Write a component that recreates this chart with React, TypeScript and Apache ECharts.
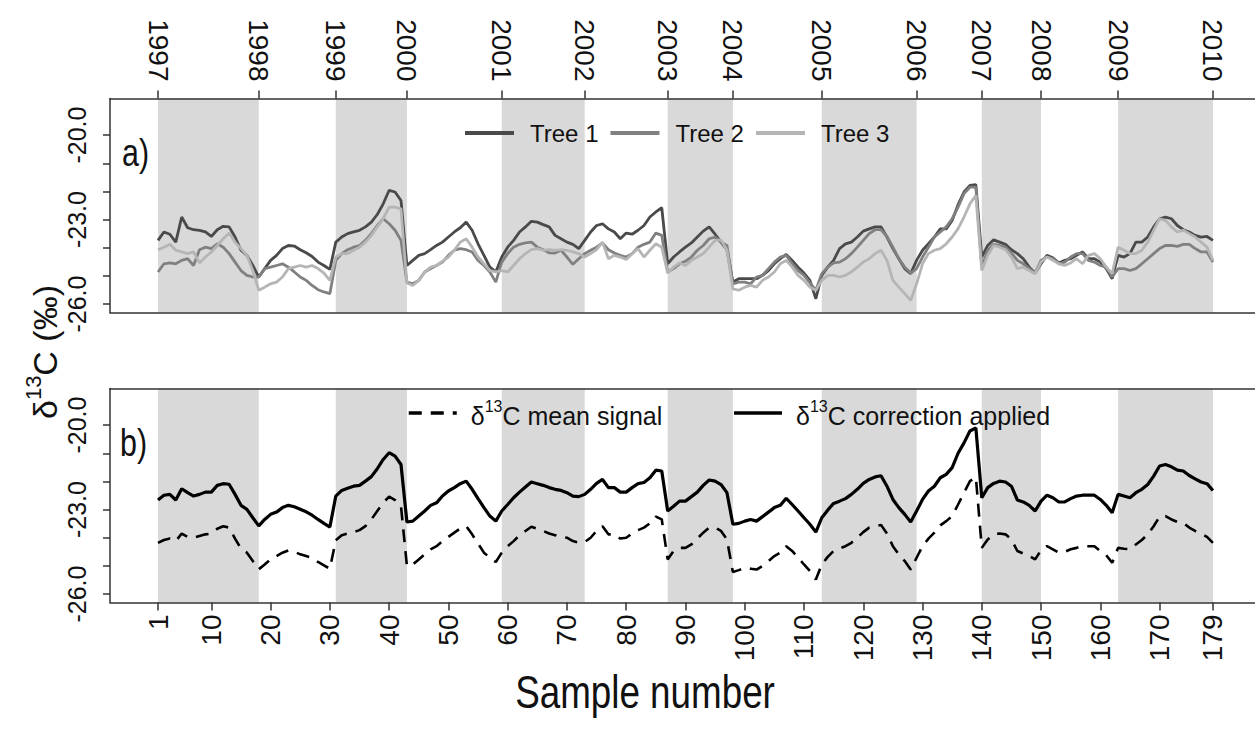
import React, { useEffect, useRef } from "react";
import * as echarts from "echarts";

// ---------------- data ----------------
const samples: number[] = Array.from({ length: 179 }, (_, i) => i + 1);

const sampleTicks = [1, 10, 20, 30, 40, 50, 60, 70, 80, 90, 100, 110, 120, 130, 140, 150, 160, 170, 179];
const yearTicks = [1, 18, 31, 43, 59, 73, 87, 98, 113, 129, 140, 150, 163, 179];
const years = [1997, 1998, 1999, 2000, 2001, 2002, 2003, 2004, 2005, 2006, 2007, 2008, 2009, 2010];
const yTicks = [-26, -25, -24, -23, -22, -21, -20];
const yLabels = [-26, -23, -20];

const tree1 = [
  -23.74, -23.44, -23.52, -23.8, -22.91, -23.29, -23.36, -23.38, -23.44, -23.6,
  -23.36, -23.24, -23.26, -23.62, -24.09, -24.27, -24.63, -25.04, -24.74, -24.45,
  -24.27, -24.03, -23.92, -23.94, -24.07, -24.18, -24.31, -24.51, -24.63, -24.77,
  -23.8, -23.62, -23.5, -23.44, -23.38, -23.26, -23.09, -22.82, -22.44, -21.96,
  -22.02, -22.32, -24.63, -24.45, -24.27, -24.21, -24.07, -23.92, -23.8, -23.62,
  -23.44, -23.29, -23.09, -23.38, -23.86, -24.27, -24.69, -24.86, -24.33, -23.98,
  -23.74, -23.44, -23.26, -23.06, -23.09, -23.18, -23.26, -23.56, -23.68, -23.8,
  -23.88, -24.03, -23.74, -23.44, -23.21, -23.15, -23.33, -23.44, -23.68, -23.48,
  -23.52, -23.38, -23.21, -22.91, -22.73, -22.58, -24.57, -24.33, -24.15, -23.98,
  -23.83, -23.62, -23.41, -23.26, -23.52, -23.8, -24.07, -25.22, -25.1, -25.1,
  -25.1, -25.1, -24.98, -24.81, -24.57, -24.39, -24.24, -24.45, -24.69, -24.9,
  -25.16, -25.81, -24.98, -24.69, -24.45, -24.03, -23.86, -23.8, -23.62, -23.41,
  -23.33, -23.26, -23.26, -23.62, -24.03, -24.39, -24.74, -24.92, -24.45, -24.09,
  -23.86, -23.62, -23.33, -23.33, -23.03, -22.47, -22.02, -21.79, -21.76, -24.33,
  -23.92, -23.72, -23.8, -23.88, -24.07, -24.21, -24.39, -24.69, -24.9, -24.57,
  -24.27, -24.36, -24.54, -24.45, -24.39, -24.27, -24.15, -24.39, -24.39, -24.51,
  -24.74, -25.1, -24.27, -24.33, -24.21, -23.8, -23.8, -23.62, -23.26, -22.97,
  -22.91, -22.97, -23.21, -23.36, -23.44, -23.56, -23.62, -23.6, -23.74,
];

const tree2 = [
  -24.86, -24.57, -24.54, -24.57, -24.45, -24.39, -24.63, -24.07, -23.98, -24.03,
  -23.86, -23.98, -24.21, -24.51, -24.81, -24.98, -25.04, -25.04, -24.74, -24.69,
  -24.63, -24.57, -24.69, -24.86, -25.04, -25.16, -25.34, -25.49, -25.57, -25.63,
  -24.45, -24.21, -24.07, -23.98, -23.92, -23.74, -23.5, -23.21, -22.97, -23.15,
  -23.38, -23.74, -25.22, -25.28, -25.16, -24.86, -24.74, -24.63, -24.51, -24.27,
  -24.09, -24.03, -24.07, -24.15, -24.45, -24.63, -24.86, -25.22, -24.51, -24.21,
  -23.98, -23.88, -23.83, -23.8, -23.98, -24.07, -24.18, -24.19, -24.09, -24.33,
  -24.59, -24.39, -24.21, -24.09, -23.98, -23.83, -24.07, -24.19, -24.27, -24.33,
  -24.21, -23.98, -23.88, -23.8, -23.48, -23.56, -24.86, -24.74, -24.57, -24.48,
  -24.33, -24.09, -23.92, -23.68, -23.62, -23.8, -23.92, -25.28, -25.22, -25.22,
  -25.28, -25.04, -24.98, -24.74, -24.51, -24.33, -24.27, -24.57, -24.81, -24.98,
  -25.25, -25.51, -24.92, -24.69, -24.54, -24.51, -24.39, -24.21, -23.98, -23.74,
  -23.5, -23.36, -23.36, -23.6, -23.98, -24.39, -24.69, -24.9, -24.74, -24.33,
  -23.98, -23.62, -23.44, -23.26, -22.97, -22.56, -22.08, -21.85, -21.85, -24.69,
  -24.09, -23.88, -23.92, -23.98, -24.19, -24.45, -24.57, -24.74, -24.9, -24.45,
  -24.33, -24.39, -24.57, -24.51, -24.33, -24.21, -24.21, -24.45, -24.51, -24.63,
  -24.69, -25.04, -24.74, -24.74, -24.81, -24.74, -24.57, -24.39, -24.21, -24.03,
  -23.92, -23.92, -23.95, -23.88, -23.88, -24.03, -24.15, -24.15, -24.51,
];

const tree3 = [
  -24.07, -23.98, -23.88, -24.09, -24.15, -24.21, -24.15, -24.54, -24.33, -24.15,
  -23.92, -23.68, -23.48, -23.8, -24.03, -24.27, -24.81, -25.51, -25.4, -25.28,
  -25.22, -25.04, -24.74, -24.69, -24.63, -24.69, -24.63, -24.74, -24.9, -25.16,
  -24.33, -24.21, -24.21, -24.09, -23.98, -23.8, -23.56, -23.26, -22.97, -22.56,
  -22.56, -22.62, -25.25, -25.34, -25.16, -24.86, -24.69, -24.63, -24.48, -24.33,
  -24.09, -23.8, -23.68, -23.98, -24.33, -24.57, -24.81, -24.86, -24.81, -24.86,
  -24.63, -24.39, -24.21, -24.07, -24.03, -24.09, -24.07, -24.09, -24.07, -24.09,
  -24.15, -24.21, -24.33, -24.21, -24.07, -23.8, -24.39, -24.27, -24.33, -24.42,
  -24.21, -24.03, -24.33, -24.09, -23.86, -23.98, -24.9, -24.69, -24.54, -24.63,
  -24.45, -24.33, -24.21, -23.98, -23.74, -23.72, -24.09, -25.46, -25.51, -25.4,
  -25.34, -25.4, -25.16, -25.04, -24.86, -24.57, -24.45, -24.69, -24.98, -25.16,
  -25.4, -25.51, -25.16, -24.98, -24.98, -25.04, -24.98, -24.86, -24.69, -24.51,
  -24.39, -24.21, -24.09, -24.45, -25.16, -25.4, -25.63, -25.87, -25.28, -24.57,
  -24.21, -24.09, -24.03, -23.86, -23.62, -23.32, -22.91, -22.44, -22.14, -24.81,
  -24.27, -23.92, -23.98, -24.07, -24.33, -24.74, -24.69, -24.81, -24.92, -24.51,
  -24.33, -24.45, -24.57, -24.63, -24.54, -24.39, -24.57, -24.27, -24.21, -24.39,
  -24.69, -24.92, -23.98, -24.09, -24.21, -24.21, -24.09, -23.8, -23.38, -22.97,
  -23.03, -23.26, -23.44, -23.38, -23.5, -23.62, -23.8, -23.98, -24.45,
];

const meanSignal = [
  -24.18, -24.08, -24.03, -24.12, -23.85, -23.97, -24.0, -23.94, -23.88, -23.85,
  -23.68, -23.59, -23.64, -24.03, -24.39, -24.53, -24.83, -25.12, -24.95, -24.77,
  -24.65, -24.53, -24.45, -24.5, -24.59, -24.65, -24.71, -24.86, -24.98, -25.1,
  -24.09, -23.91, -23.85, -23.8, -23.73, -23.59, -23.35, -23.05, -22.76, -22.54,
  -22.66, -22.88, -25.0, -24.95, -24.77, -24.59, -24.41, -24.3, -24.12, -23.97,
  -23.82, -23.67, -23.59, -23.88, -24.21, -24.53, -24.71, -24.86, -24.53, -24.3,
  -24.12, -23.91, -23.76, -23.61, -23.68, -23.76, -23.85, -23.91, -23.97, -24.0,
  -24.12, -24.18, -24.15, -24.0, -23.76, -23.59, -23.88, -23.88, -24.03, -24.0,
  -23.85, -23.73, -23.64, -23.49, -23.25, -23.35, -24.77, -24.47, -24.36, -24.36,
  -24.24, -24.03, -23.82, -23.64, -23.64, -23.76, -24.06, -25.22, -25.15, -25.07,
  -25.1, -25.13, -25.0, -24.83, -24.65, -24.53, -24.3, -24.47, -24.71, -24.95,
  -25.18, -25.48, -24.95, -24.68, -24.47, -24.38, -24.3, -24.18, -24.0, -23.8,
  -23.64, -23.59, -23.55, -23.85, -24.3, -24.59, -24.83, -25.13, -24.71, -24.3,
  -24.03, -23.82, -23.56, -23.41, -23.23, -22.82, -22.4, -21.99, -21.85, -24.36,
  -24.06, -23.88, -23.85, -23.88, -24.06, -24.47, -24.56, -24.65, -24.77, -24.44,
  -24.3, -24.41, -24.53, -24.5, -24.41, -24.36, -24.3, -24.3, -24.3, -24.47,
  -24.62, -24.89, -24.36, -24.39, -24.41, -24.24, -24.08, -23.88, -23.59, -23.25,
  -23.23, -23.35, -23.44, -23.47, -23.64, -23.76, -23.85, -23.97, -24.18,
];

const correction = [
  -22.66, -22.49, -22.46, -22.66, -22.26, -22.4, -22.52, -22.46, -22.38, -22.38,
  -22.14, -22.08, -22.1, -22.46, -22.85, -22.99, -23.29, -23.58, -23.35, -23.17,
  -23.09, -22.93, -22.85, -22.9, -22.99, -23.08, -23.2, -23.35, -23.49, -23.62,
  -22.52, -22.32, -22.24, -22.17, -22.14, -21.99, -21.83, -21.55, -21.22, -20.98,
  -21.1, -21.4, -23.44, -23.41, -23.23, -23.05, -22.85, -22.76, -22.52, -22.34,
  -22.22, -22.08, -21.99, -22.28, -22.61, -22.93, -23.23, -23.41, -23.05, -22.82,
  -22.58, -22.38, -22.2, -22.02, -22.08, -22.14, -22.22, -22.28, -22.32, -22.4,
  -22.52, -22.54, -22.46, -22.28, -22.07, -21.93, -22.22, -22.22, -22.38, -22.38,
  -22.22, -22.08, -22.04, -21.87, -21.6, -21.63, -23.05, -22.88, -22.7, -22.7,
  -22.54, -22.38, -22.14, -21.95, -21.99, -22.11, -22.4, -23.52, -23.49, -23.41,
  -23.35, -23.41, -23.25, -23.09, -22.93, -22.85, -22.6, -22.82, -23.05, -23.29,
  -23.52, -23.8, -23.29, -23.02, -22.78, -22.7, -22.61, -22.46, -22.28, -22.07,
  -21.93, -21.84, -21.8, -22.17, -22.64, -22.93, -23.17, -23.44, -23.05, -22.64,
  -22.34, -22.17, -21.87, -21.75, -21.51, -21.0, -20.63, -20.21, -20.1, -22.58,
  -22.22, -22.07, -21.99, -22.02, -22.17, -22.66, -22.73, -22.85, -23.05, -22.7,
  -22.49, -22.58, -22.73, -22.73, -22.61, -22.52, -22.49, -22.49, -22.49, -22.64,
  -22.85, -23.11, -22.46, -22.52, -22.58, -22.4, -22.28, -22.11, -21.81, -21.45,
  -21.4, -21.48, -21.6, -21.63, -21.79, -21.91, -22.02, -22.08, -22.32,
];

// ---------------- helpers ----------------
const pairs = (vals: number[]) => samples.map((s, i) => [s, vals[i]]);

// shaded = every other year interval, starting with the first
const bands: any[] = [];
for (let i = 0; i + 1 < yearTicks.length; i += 2) {
  bands.push([{ xAxis: yearTicks[i] }, { xAxis: yearTicks[i + 1] }]);
}

const XMIN = -7.1;
const XMAX = 186.1;
const YMIN = -26.3;
const YMAX = -18.7;

const SANS = "'Liberation Sans', Arial, Helvetica, sans-serif";
const AX = "#333";

const boxLine = { show: true, onZero: false, lineStyle: { color: AX, width: 1.5 } };
const hiddenSymbol = { color: "transparent", borderColor: "transparent", borderWidth: 0, opacity: 0 };

function buildOption(): any {
  const markArea = {
    silent: true,
    itemStyle: { color: "#d9d9d9" },
    data: bands,
  };
  const tickLabel = { fontFamily: SANS, fontSize: 28, color: "#111" };

  return {
    animation: false,
    backgroundColor: "#ffffff",
    grid: [
      { left: 110, top: 98.5, right: 0, height: 214, show: false },
      { left: 110, top: 388.5, right: 0, height: 214, show: false },
    ],
    xAxis: [
      {
        gridIndex: 0, type: "value", position: "bottom", min: XMIN, max: XMAX, z: 5,
        axisLine: boxLine, axisTick: { show: false }, axisLabel: { show: false }, splitLine: { show: false },
      },
      {
        gridIndex: 0, type: "value", position: "top", min: XMIN, max: XMAX, z: 5,
        axisLine: boxLine,
        axisTick: { show: true, customValues: yearTicks, length: 8, lineStyle: { color: AX, width: 1.5 } },
        axisLabel: {
          ...tickLabel, customValues: yearTicks, rotate: 90, margin: 17,
          formatter: (v: number) => String(years[yearTicks.indexOf(v)]),
        },
        splitLine: { show: false },
      },
      {
        gridIndex: 1, type: "value", position: "bottom", min: XMIN, max: XMAX, z: 5,
        axisLine: boxLine,
        axisTick: { show: true, customValues: sampleTicks, length: 8, lineStyle: { color: AX, width: 1.5 } },
        axisLabel: { ...tickLabel, customValues: sampleTicks, rotate: 90, margin: 12, formatter: (v: number) => String(v) },
        splitLine: { show: false },
      },
      {
        gridIndex: 1, type: "value", position: "top", min: XMIN, max: XMAX, z: 5,
        axisLine: boxLine, axisTick: { show: false }, axisLabel: { show: false }, splitLine: { show: false },
      },
    ],
    yAxis: [0, 1].map((g) => ({
      gridIndex: g, type: "value", min: YMIN, max: YMAX, position: "left", z: 5,
      axisLine: boxLine,
      axisTick: { show: true, customValues: yTicks, length: 7, lineStyle: { color: AX, width: 1.5 } },
      axisLabel: {
        ...tickLabel, fontSize: 25, customValues: yLabels, rotate: 90, margin: 21,
        formatter: (v: number) => v.toFixed(1),
      },
      splitLine: { show: false },
    })),
    legend: [
      {
        data: ["Tree 1", "Tree 2", "Tree 3"],
        left: 458, top: 116, orient: "horizontal",
        itemWidth: 49, itemHeight: 14, itemGap: 10,
        itemStyle: hiddenSymbol,
        lineStyle: { width: 4 },
        textStyle: { fontFamily: SANS, fontSize: 24, color: "#111", padding: [0, 0, 0, 11] },
      },
      {
        data: ["δ13C mean signal", "δ13C correction applied"],
        left: 402, top: 393, orient: "horizontal",
        itemWidth: 48, itemHeight: 14, itemGap: 70,
        itemStyle: hiddenSymbol,
        lineStyle: { width: 3.5 },
        formatter: (name: string) => "{n|δ}{s|13}{n|" + name.slice(3) + "}",
        textStyle: {
          fontFamily: SANS, fontSize: 25, color: "#111", padding: [0, 0, 0, 9],
          rich: {
            n: { fontFamily: SANS, fontSize: 25, color: "#111", lineHeight: 30, verticalAlign: "bottom" },
            s: { fontFamily: SANS, fontSize: 16, color: "#111", lineHeight: 16, verticalAlign: "top" },
          },
        },
      },
    ],
    series: [
      {
        name: "Tree 1", type: "line", xAxisIndex: 0, yAxisIndex: 0, data: pairs(tree1),
        symbol: "none", lineStyle: { color: "#4a4a4a", width: 2.8 }, itemStyle: { color: "#4a4a4a" },
        markArea, z: 3,
      },
      {
        name: "Tree 2", type: "line", xAxisIndex: 0, yAxisIndex: 0, data: pairs(tree2),
        symbol: "none", lineStyle: { color: "#808080", width: 2.8 }, itemStyle: { color: "#808080" }, z: 3,
      },
      {
        name: "Tree 3", type: "line", xAxisIndex: 0, yAxisIndex: 0, data: pairs(tree3),
        symbol: "none", lineStyle: { color: "#b5b5b5", width: 2.8 }, itemStyle: { color: "#b5b5b5" }, z: 3,
      },
      {
        name: "δ13C mean signal", type: "line", xAxisIndex: 2, yAxisIndex: 1, data: pairs(meanSignal),
        symbol: "none", lineStyle: { color: "#000", width: 2.6, type: [13, 9] }, itemStyle: { color: "#000" },
        markArea, z: 3,
      },
      {
        name: "δ13C correction applied", type: "line", xAxisIndex: 2, yAxisIndex: 1, data: pairs(correction),
        symbol: "none", lineStyle: { color: "#000", width: 3.2 }, itemStyle: { color: "#000" }, z: 3,
      },
    ],
    graphic: [
      {
        type: "text", x: 122, y: 153, scaleX: 0.8,
        style: { text: "a)", fontFamily: SANS, fontSize: 38, fill: "#111", align: "left", verticalAlign: "middle" },
      },
      {
        type: "text", x: 120, y: 443, scaleX: 0.8,
        style: { text: "b)", fontFamily: SANS, fontSize: 38, fill: "#111", align: "left", verticalAlign: "middle" },
      },
      {
        type: "text", x: 42, y: 352, rotation: Math.PI / 2,
        style: {
          text: "{n|δ}{s|13}{n|C (‰)}", align: "center", verticalAlign: "middle", fill: "#111",
          rich: {
            n: { fontFamily: SANS, fontSize: 34, fill: "#111", lineHeight: 40, verticalAlign: "bottom" },
            s: { fontFamily: SANS, fontSize: 22, fill: "#111", lineHeight: 22, verticalAlign: "top" },
          },
        },
      },
      {
        type: "text", x: 645, y: 692, scaleX: 0.8,
        style: { text: "Sample number", fontFamily: SANS, fontSize: 46, fill: "#111", align: "center", verticalAlign: "middle" },
      },
    ],
  };
}

export default function App() {
  const ref = useRef<HTMLDivElement>(null);
  useEffect(() => {
    if (!ref.current) return;
    const chart = echarts.init(ref.current, undefined, { renderer: "svg" });
    chart.setOption(buildOption());
    return () => chart.dispose();
  }, []);
  return (
    <div
      ref={ref}
      style={{ position: "absolute", left: 0, top: 0, width: 1255, height: 731, background: "#fff" }}
    />
  );
}
